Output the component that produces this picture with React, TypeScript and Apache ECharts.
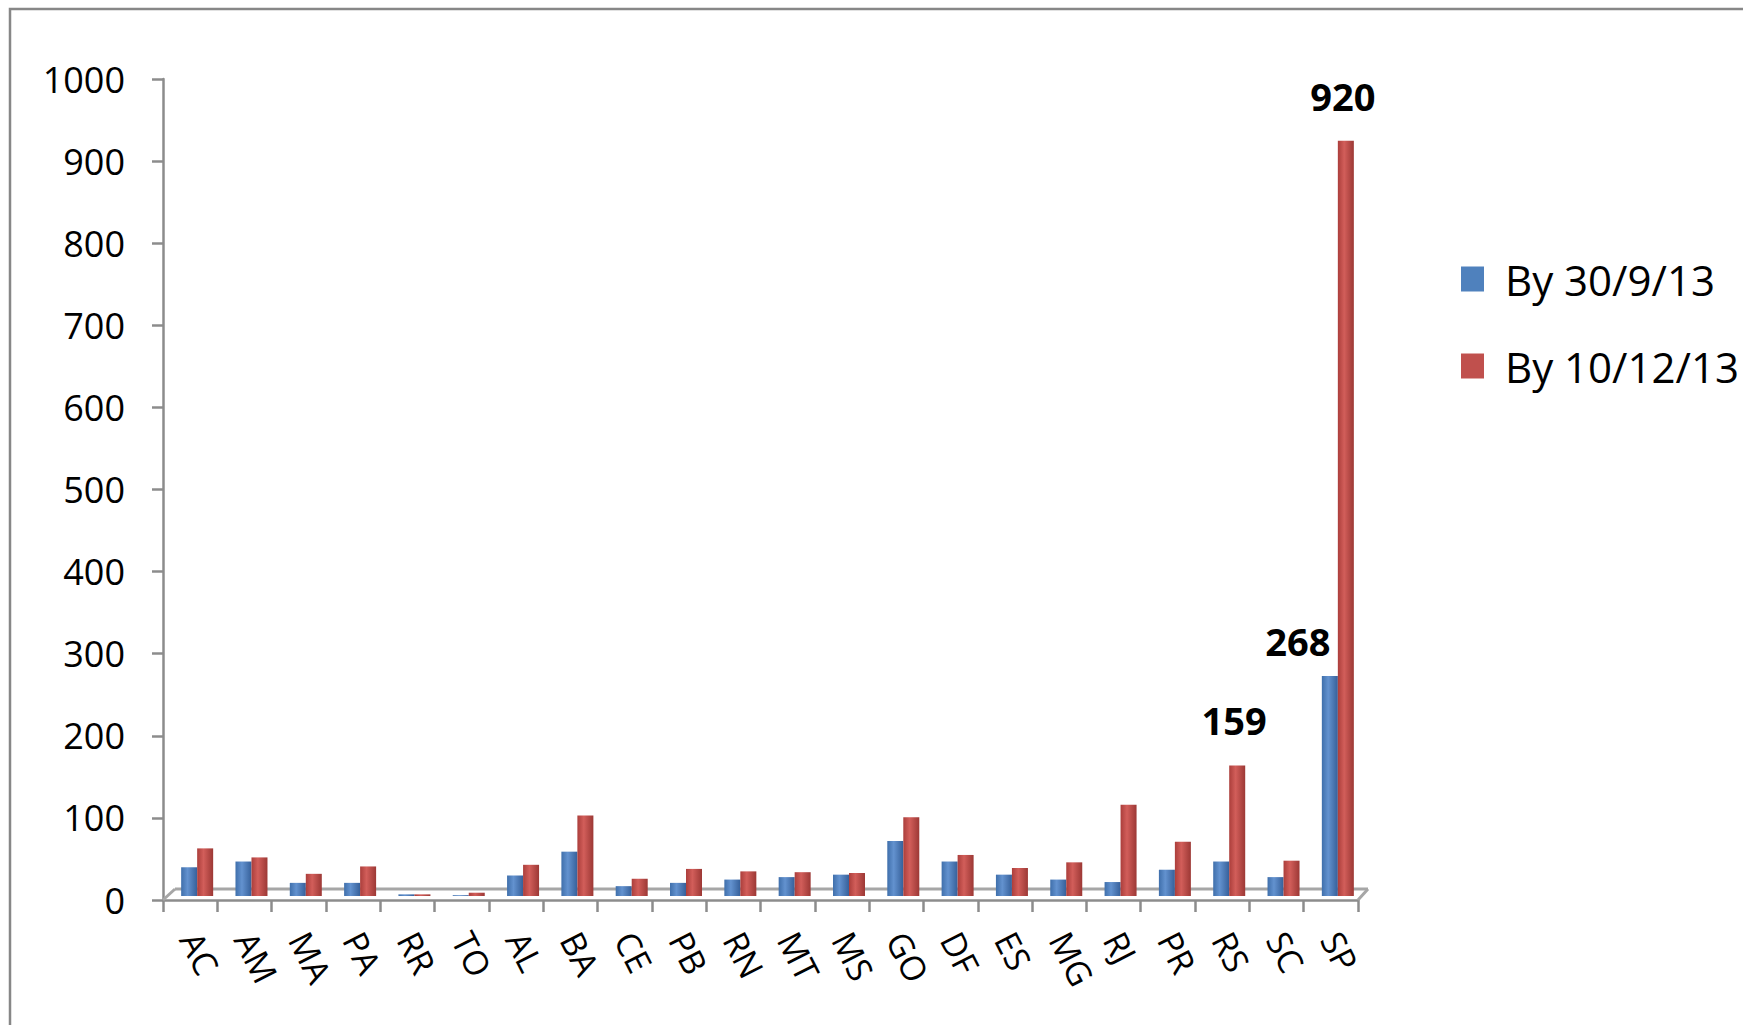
import React, { useEffect, useRef } from "react";
import * as echarts from "echarts";

const categories = ["AC", "AM", "MA", "PA", "RR", "TO", "AL", "BA", "CE", "PB", "RN", "MT", "MS", "GO", "DF", "ES", "MG", "RJ", "PR", "RS", "SC", "SP"];
const seriesNames = ["By 30/9/13", "By 10/12/13"];
const by30913 = [35, 42, 16, 16, 2, 1, 25, 54, 12, 16, 20, 23, 26, 67, 42, 26, 20, 17, 32, 42, 23, 268];
const by101213 = [58, 47, 27, 36, 2, 4, 38, 98, 21, 33, 30, 29, 28, 96, 50, 34, 41, 111, 66, 159, 43, 920];
const labeledBlue = ["SP"];
const labeledRed = ["RS", "SP"];
const yMin = 0;
const yMax = 1000;
const yInterval = 100;

const FONT = "'Open Sans', 'Noto Sans', sans-serif";

function cyl(dark: string, light: string, darker: string) {
  return new echarts.graphic.LinearGradient(0, 0, 1, 0, [
    { offset: 0, color: dark },
    { offset: 0.4, color: light },
    { offset: 1, color: darker },
  ]);
}

export default function App() {
  const ref = useRef<HTMLDivElement>(null);
  useEffect(() => {
    if (!ref.current) return;
    const chart = echarts.init(ref.current, null, { renderer: "svg" });
    const blueGrad = cyl("#3f6fab", "#6392cf", "#36609a");
    const redGrad = cyl("#ab3e3b", "#d25e5a", "#9c3835");
    const blueData = by30913.map((v, i) =>
      labeledBlue.includes(categories[i])
        ? { value: v, label: { show: true, position: "top", distance: 16, offset: [-32, 0] } }
        : v
    );
    const redData = by101213.map((v, i) =>
      labeledRed.includes(categories[i])
        ? { value: v, label: { show: true, position: "top", distance: 26, offset: [-3, 0] } }
        : v
    );
    const labelText = { color: "#000", fontFamily: FONT, fontSize: 38, fontWeight: "bold" as const };
    chart.setOption({
      animation: false,
      backgroundColor: "#ffffff",
      textStyle: { fontFamily: FONT },
      legend: {
        orient: "vertical",
        left: 1456,
        top: 253,
        itemWidth: 23,
        itemHeight: 25,
        itemGap: 45,
        icon: "rect",
        textStyle: { fontFamily: FONT, fontSize: 42, color: "#000", padding: [0, 0, 0, 16] },
        data: [
          { name: seriesNames[0], itemStyle: { color: "#4f81bd" } },
          { name: seriesNames[1], itemStyle: { color: "#c0504d" } },
        ],
      },
      grid: [
        { left: 163, top: 79, width: 1195, height: 821 },
        { left: 170, top: 75, width: 1195, height: 821 },
      ],
      xAxis: [
        {
          type: "category",
          gridIndex: 0,
          data: categories,
          boundaryGap: true,
          axisLine: { lineStyle: { color: "#8c8c8c", width: 2.5 } },
          axisTick: { show: true, length: 12, interval: 0, lineStyle: { color: "#8c8c8c", width: 2.5 } },
          axisLabel: { interval: 0, rotate: -63, fontSize: 34, color: "#000", fontFamily: FONT, margin: 34 },
        },
        {
          type: "category",
          gridIndex: 1,
          data: categories,
          show: false,
        },
      ],
      yAxis: [
        {
          type: "value",
          gridIndex: 0,
          min: yMin,
          max: yMax,
          interval: yInterval,
          axisLine: { show: true, lineStyle: { color: "#8c8c8c", width: 2.5 } },
          axisTick: { show: true, length: 11, lineStyle: { color: "#8c8c8c", width: 2.5 } },
          splitLine: { show: false },
          axisLabel: { fontSize: 36, color: "#000", fontFamily: FONT, margin: 38, formatter: (v: number) => String(v) },
        },
        {
          type: "value",
          gridIndex: 1,
          min: yMin,
          max: yMax,
          show: false,
          splitLine: { show: false },
        },
      ],
      graphic: [
        { type: "rect", shape: { x: 10, y: 9, width: 2000, height: 2000 }, style: { fill: "none", stroke: "#878787", lineWidth: 2.5 }, z: 100 },
        { type: "line", shape: { x1: 175, y1: 889, x2: 1368, y2: 889 }, style: { stroke: "#a6a6a6", lineWidth: 3 }, z: 1 },
        { type: "line", shape: { x1: 163, y1: 900, x2: 175, y2: 889 }, style: { stroke: "#a6a6a6", lineWidth: 3 }, z: 1 },
        { type: "line", shape: { x1: 1358, y1: 900, x2: 1368, y2: 889 }, style: { stroke: "#a6a6a6", lineWidth: 3 }, z: 1 },
      ],
      series: [
        {
          name: seriesNames[0],
          type: "bar",
          xAxisIndex: 1,
          yAxisIndex: 1,
          barWidth: 16,
          barGap: "0%",
          data: blueData,
          itemStyle: { color: blueGrad },
          label: { show: false, ...labelText },
          z: 5,
        },
        {
          name: seriesNames[1],
          type: "bar",
          xAxisIndex: 1,
          yAxisIndex: 1,
          barWidth: 16,
          barGap: "0%",
          data: redData,
          itemStyle: { color: redGrad },
          label: { show: false, ...labelText },
          z: 5,
        },
      ],
    });
    return () => chart.dispose();
  }, []);
  return (
    <div
      ref={ref}
      style={{ position: "absolute", left: 0, top: 0, width: 1743, height: 1025, background: "#fff" }}
    />
  );
}
